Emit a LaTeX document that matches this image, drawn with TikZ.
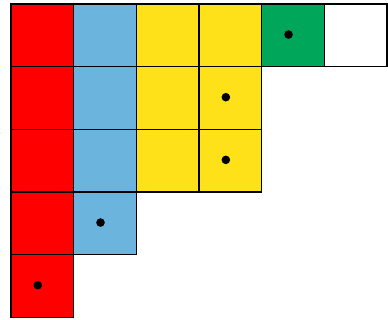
\documentclass[tikz,border=0pt]{standalone}
\definecolor{cred}{HTML}{FF0000}
\definecolor{cblue}{HTML}{6BB4DE}
\definecolor{cyellow}{HTML}{FFE119}
\definecolor{cgreen}{HTML}{00A65A}
\tikzset{cell/.style={draw=black,line width=1.3pt},
  pip/.style={fill=black}}
\begin{document}
\begin{tikzpicture}[x=1pt,y=-1pt]
\useasboundingbox (0,0) rectangle (388,320);
\def\s{62.67}
% fills
\foreach \r in {0,...,4} {\fill[cred] ({11},{4+\r*\s}) rectangle ++(\s,\s);}
\foreach \r in {0,...,3} {\fill[cblue] ({11+\s},{4+\r*\s}) rectangle ++(\s,\s);}
\foreach \c in {2,3} {\foreach \r in {0,1,2} {\fill[cyellow] ({11+\c*\s},{4+\r*\s}) rectangle ++(\s,\s);}}
\fill[cgreen] ({11+4*\s},4) rectangle ++(\s,\s);
% borders
\foreach \r in {0,...,4} {\draw[cell] ({11},{4+\r*\s}) rectangle ++(\s,\s);}
\foreach \r in {0,...,3} {\draw[cell] ({11+\s},{4+\r*\s}) rectangle ++(\s,\s);}
\foreach \c in {2,3} {\foreach \r in {0,1,2} {\draw[cell] ({11+\c*\s},{4+\r*\s}) rectangle ++(\s,\s);}}
\foreach \c in {4,5} {\draw[cell] ({11+\c*\s},4) rectangle ++(\s,\s);}
% dots
\foreach \c/\r in {0/4,1/3,3/1,3/2,4/0} {\fill[pip] ({11+(\c+0.5)*\s-4.5},{4+(\r+0.5)*\s-0.8}) circle (4.3);}
\end{tikzpicture}
\end{document}
